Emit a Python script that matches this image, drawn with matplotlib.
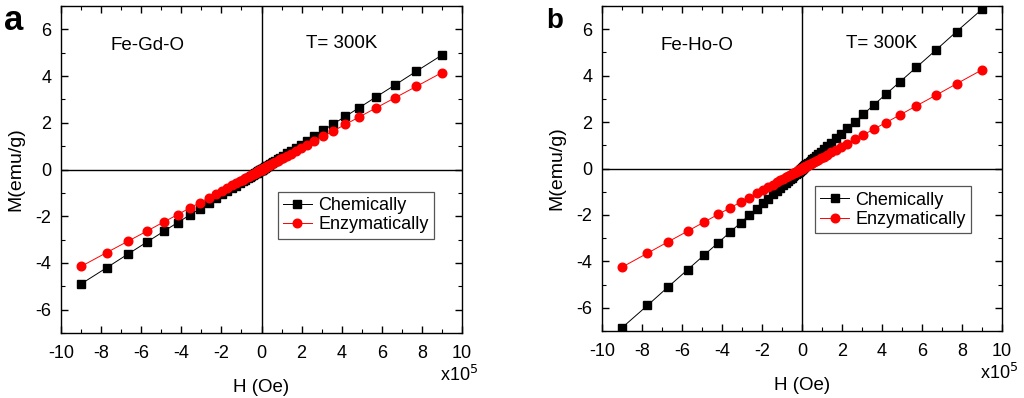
import numpy as np
import matplotlib
matplotlib.use("Agg")
import matplotlib.pyplot as plt
import matplotlib.ticker as mticker

plt.rcParams.update({
    "font.family": ["Liberation Sans", "DejaVu Sans"],
    "font.size": 13,
    "axes.linewidth": 1.0,
    "axes.unicode_minus": False,
    "xtick.direction": "in",
    "ytick.direction": "in",
})

# field sweep (x10^5 Oe), positive branch; loop is symmetric about the origin
H_pos = [9.0, 7.73, 6.68, 5.72, 4.88, 4.18, 3.58, 3.07, 2.64, 2.27, 1.96, 1.70,
         1.46, 1.26, 1.08, 0.93, 0.80, 0.69, 0.59, 0.51, 0.44, 0.38, 0.32, 0.28,
         0.24, 0.20, 0.17, 0.15, 0.12, 0.10, 0.08, 0.06, 0.04, 0.02, 0.0]

# panel a: Fe-Gd-O
gd_chem = [4.90, 4.21, 3.63, 3.11, 2.65, 2.27, 1.95, 1.67, 1.44, 1.23, 1.07, 0.92,
           0.79, 0.69, 0.59, 0.51, 0.44, 0.38, 0.32, 0.28, 0.24, 0.21, 0.17, 0.15,
           0.13, 0.11, 0.09, 0.08, 0.07, 0.05, 0.04, 0.03, 0.02, 0.01, 0.0]
gd_enz = [4.15, 3.56, 3.08, 2.64, 2.25, 1.93, 1.65, 1.42, 1.22, 1.05, 0.90, 0.78,
          0.67, 0.58, 0.50, 0.43, 0.37, 0.32, 0.27, 0.24, 0.20, 0.18, 0.15, 0.13,
          0.11, 0.09, 0.08, 0.07, 0.06, 0.05, 0.04, 0.03, 0.02, 0.01, 0.0]

# panel b: Fe-Ho-O
ho_chem = [6.86, 5.90, 5.09, 4.36, 3.72, 3.19, 2.73, 2.34, 2.01, 1.73, 1.49, 1.30,
           1.11, 0.96, 0.82, 0.71, 0.61, 0.53, 0.45, 0.39, 0.34, 0.29, 0.24, 0.21,
           0.18, 0.15, 0.13, 0.11, 0.09, 0.08, 0.06, 0.05, 0.03, 0.02, 0.0]
ho_enz = [4.25, 3.65, 3.15, 2.70, 2.30, 1.97, 1.69, 1.45, 1.25, 1.07, 0.93, 0.80,
          0.69, 0.59, 0.51, 0.44, 0.38, 0.33, 0.28, 0.24, 0.21, 0.18, 0.15, 0.13,
          0.11, 0.09, 0.08, 0.07, 0.06, 0.05, 0.04, 0.03, 0.02, 0.01, 0.0]

x_ticks = [-10, -8, -6, -4, -2, 0, 2, 4, 6, 8, 10]
y_ticks = [-6, -4, -2, 0, 2, 4, 6]


def full(vals):
    v = np.asarray(vals)
    return np.concatenate([-v, v[::-1]])


def draw_panel(ax, chem, enz, sample, sample_x, letter, letter_size, leg_anchor):
    H = full(H_pos)
    ax.axhline(0, color="black", lw=1.0, zorder=1)
    ax.axvline(0, color="black", lw=1.0, zorder=1)
    ax.plot(H, full(chem), "-s", color="black", lw=0.7, ms=5.6,
            mec="black", label="Chemically", zorder=3)
    ax.plot(H, full(enz), "-o", color="red", lw=0.7, ms=6.2,
            mec="red", label="Enzymatically", zorder=4)

    ax.set_xlim(-10, 10)
    ax.set_ylim(-7, 7)
    ax.set_xticks(x_ticks)
    ax.set_yticks(y_ticks)
    ax.xaxis.set_minor_locator(mticker.MultipleLocator(1))
    ax.yaxis.set_minor_locator(mticker.MultipleLocator(1))
    ax.tick_params(which="major", top=True, right=True, length=5, width=1.0,
                   labelsize=13)
    ax.tick_params(axis="x", which="major", pad=9)
    ax.tick_params(axis="y", which="major", pad=7)
    ax.tick_params(which="minor", top=True, right=True, length=3, width=0.8)

    ax.set_xlabel("H (Oe)", fontsize=13.5, labelpad=12)
    ax.set_ylabel("M(emu/g)", fontsize=14, labelpad=8)
    ax.text(0.945, -0.128, r"x10$^5$", transform=ax.transAxes,
            ha="left", va="center", fontsize=13)

    ax.text(sample_x, 0.88, sample, transform=ax.transAxes,
            ha="center", va="center", fontsize=13.5)
    ax.text(0.70, 0.885, "T= 300K", transform=ax.transAxes,
            ha="center", va="center", fontsize=13.5)

    ax.text(-0.118, 0.955, letter, transform=ax.transAxes,
            ha="center", va="center", fontsize=letter_size, fontweight="bold")

    leg = ax.legend(loc="upper left", bbox_to_anchor=leg_anchor,
                    fontsize=13, frameon=True, fancybox=False,
                    edgecolor="#555555", handlelength=1.6,
                    handletextpad=0.35, borderpad=0.3, labelspacing=0.12,
                    borderaxespad=0, framealpha=1.0)
    leg.get_frame().set_linewidth(0.9)


fig = plt.figure(figsize=(10.24, 3.98), dpi=100)
ax_a = fig.add_axes([61 / 1024, 1 - 333 / 398, 401 / 1024, 327 / 398])
ax_b = fig.add_axes([602 / 1024, 1 - 331 / 398, 400 / 1024, 325 / 398])

draw_panel(ax_a, gd_chem, gd_enz, "Fe-Gd-O", 0.215, "a", 25, (0.54, 0.432))
draw_panel(ax_b, ho_chem, ho_enz, "Fe-Ho-O", 0.532 - 0.295, "b", 20, (0.532, 0.445))

fig.savefig("out.png", dpi=100)
